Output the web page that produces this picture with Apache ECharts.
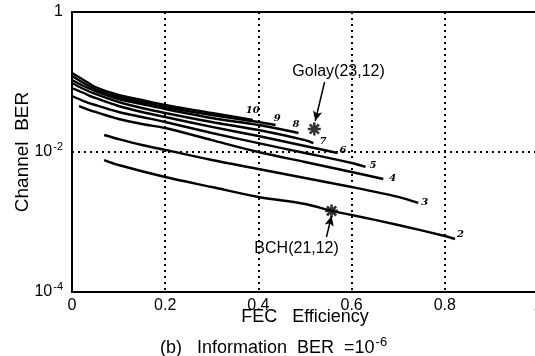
<!DOCTYPE html>
<html>
<head>
<meta charset="utf-8">
<script src="https://cdn.jsdelivr.net/npm/echarts@6/dist/echarts.min.js"></script>
<style>
  html, body { margin: 0; padding: 0; background: #fff; }
  #chart { width: 535px; height: 356px; }
</style>
</head>
<body>
<div id="chart"></div>
<script>
// Channel BER needed to reach an information BER of 1e-6, vs FEC efficiency.
// Each curve is labelled with its number of correctable errors.
const curveNames = ['10', '9', '8', '7', '6', '5', '4', '3', '2'];

const curve10 = [[0, 0.1345], [0.025, 0.1068], [0.05, 0.0848], [0.1, 0.0652], [0.15, 0.0553], [0.2, 0.0469], [0.3, 0.0361], [0.388, 0.0286]];
const curve9 = [[0, 0.1219], [0.025, 0.0967], [0.05, 0.0794], [0.1, 0.0611], [0.15, 0.0518], [0.2, 0.0439], [0.3, 0.0338], [0.4, 0.0268], [0.437, 0.0243]];
const curve8 = [[0, 0.1068], [0.025, 0.0877], [0.05, 0.0743], [0.1, 0.0572], [0.15, 0.0485], [0.2, 0.0411], [0.3, 0.0306], [0.4, 0.0243], [0.486, 0.0187]];
const curve7 = [[0, 0.0967], [0.025, 0.0794], [0.05, 0.0674], [0.1, 0.0518], [0.15, 0.0425], [0.2, 0.0361], [0.3, 0.0268], [0.4, 0.0206], [0.5, 0.0148], [0.518, 0.0134]];
const curve6 = [[0, 0.0821], [0.025, 0.0696], [0.05, 0.0591], [0.1, 0.0454], [0.15, 0.0373], [0.2, 0.0316], [0.3, 0.0228], [0.4, 0.0169], [0.5, 0.0122], [0.57, 0.00968]];
const curve5 = [[0, 0.0631], [0.025, 0.0535], [0.05, 0.0469], [0.1, 0.0373], [0.15, 0.0316], [0.2, 0.0268], [0.3, 0.0187], [0.4, 0.0134], [0.5, 0.00968], [0.6, 0.00696], [0.63, 0.00611]];
const curve4 = [[0.015, 0.0454], [0.05, 0.0373], [0.1, 0.0296], [0.15, 0.0251], [0.2, 0.0220], [0.3, 0.0148], [0.4, 0.0100], [0.5, 0.00720], [0.6, 0.00518], [0.668, 0.00411]];
const curve3 = [[0.069, 0.0175], [0.1, 0.0153], [0.15, 0.0126], [0.2, 0.0107], [0.3, 0.00768], [0.4, 0.00572], [0.5, 0.00425], [0.6, 0.00316], [0.7, 0.00228], [0.743, 0.00187]];
const curve2 = [[0.069, 0.00768], [0.1, 0.00652], [0.2, 0.00439], [0.3, 0.00316], [0.4, 0.00228], [0.5, 0.00181], [0.557, 0.00144], [0.6, 0.00126], [0.7, 0.000906], [0.8, 0.000631], [0.822, 0.000572]];

// Individual codes marked on the chart
const codeNames = ['Golay(23,12)', 'BCH(21,12)'];
const codePoints = [[0.52, 0.0213], [0.557, 0.00144]];
// Annotation text anchors and arrow tails/heads (efficiency, BER)
const codeLabelAt = [[0.572, 0.139], [0.482, 0.00042]];
const arrowFrom = [[0.542, 0.1], [0.546, 0.00061]];
const arrowTo = [[0.522, 0.0277], [0.557, 0.00122]];

const xTicks = [0, 0.2, 0.4, 0.6, 0.8, 1];

// Offsets of each curve's number from its end point
const endLabelOffsets = {
  '10': [-7, -10], '9': [-2, -7], '8': [-6, -9], '7': [6, -2], '6': [2, -3],
  '5': [4, -2], '4': [6, -1], '3': [3, -1], '2': [2, -5]
};

const curveData = [curve10, curve9, curve8, curve7, curve6, curve5, curve4, curve3, curve2];

const font = '"Liberation Sans", Arial, Helvetica, sans-serif';

// Asterisk marker built from four bars
const asterisk = 'path://M-1.2,-6 L1.2,-6 L1.2,6 L-1.2,6 Z M-6,-1.2 L6,-1.2 L6,1.2 L-6,1.2 Z ' +
  'M-5.09,-3.39 L-3.39,-5.09 L5.09,3.39 L3.39,5.09 Z M-3.39,5.09 L-5.09,3.39 L3.39,-5.09 L5.09,-3.39 Z';

const chart = echarts.init(document.getElementById('chart'), null, { renderer: 'canvas' });

const lineSeries = curveData.map((d, i) => ({
  name: curveNames[i],
  type: 'line',
  data: d,
  smooth: 0.3,
  showSymbol: false,
  symbol: 'none',
  lineStyle: { color: '#000', width: 2.4 },
  endLabel: {
    show: true,
    formatter: '{a}',
    distance: 0,
    offset: endLabelOffsets[curveNames[i]],
    fontFamily: '"DejaVu Serif", serif',
    fontStyle: 'italic',
    fontWeight: 'bold',
    fontSize: 10,
    color: '#000'
  },
  z: 3
}));

const option = {
  animation: false,
  backgroundColor: '#fff',
  grid: {
    left: 72, top: 12, width: 466, height: 280,
    outerBoundsMode: 'none',
    containLabel: false,
    show: true, borderColor: '#000', borderWidth: 2, backgroundColor: 'transparent'
  },
  xAxis: {
    type: 'value',
    min: 0, max: 1, interval: 0.2,
    axisLine: { show: true, lineStyle: { color: '#000', width: 2 } },
    axisTick: { show: false },
    axisLabel: {
      color: '#000', fontFamily: font, fontSize: 16, margin: 6,
      formatter: v => (xTicks.indexOf(+v.toFixed(1)) >= 0 ? String(+v.toFixed(1)) : '')
    },
    splitLine: { show: true, lineStyle: { color: '#000', type: [2, 4], width: 2 } },
    name: 'FEC   Efficiency',
    nameLocation: 'middle',
    nameGap: 16,
    nameMoveOverlap: false,
    nameTextStyle: { color: '#000', fontFamily: font, fontSize: 18 }
  },
  yAxis: {
    type: 'log',
    logBase: 10,
    min: 1e-4, max: 1, interval: 2,
    axisLine: { show: true, lineStyle: { color: '#000', width: 2 } },
    axisTick: { show: false },
    axisLabel: {
      color: '#000', fontFamily: font, fontSize: 16, margin: 9,
      formatter: v => {
        const e = Math.round(Math.log10(v));
        return e === 0 ? '1' : '10{sup|' + e + '}';
      },
      rich: {
        sup: { fontFamily: font, fontSize: 11, verticalAlign: 'bottom', padding: [0, 0, 10, 1], color: '#000' }
      }
    },
    splitLine: { show: true, lineStyle: { color: '#000', type: [2, 4], width: 2 } },
    name: 'Channel  BER',
    nameLocation: 'middle',
    nameRotate: 90,
    nameGap: 40,
    nameMoveOverlap: false,
    nameTextStyle: { color: '#000', fontFamily: font, fontSize: 19 }
  },
  title: {
    text: '(b)   Information  BER  =10{sup|-6}',
    left: 160,
    top: 336,
    padding: 0,
    textStyle: {
      color: '#000', fontFamily: font, fontSize: 18, fontWeight: 'normal',
      rich: {
        sup: { fontFamily: font, fontSize: 13, verticalAlign: 'bottom', padding: [0, 0, 12, 1], color: '#000' }
      }
    }
  },
  series: lineSeries.concat([
    {
      name: 'codes',
      type: 'scatter',
      data: codePoints,
      symbol: asterisk,
      symbolSize: 13,
      itemStyle: { color: '#000' },
      z: 5,
      markPoint: {
        symbol: 'circle',
        symbolSize: 1,
        silent: true,
        itemStyle: { color: 'rgba(0,0,0,0)' },
        label: { show: true, color: '#000', fontFamily: font, fontSize: 16, position: 'inside' },
        data: codeNames.map((n, i) => ({ coord: codeLabelAt[i], name: n, label: { formatter: n } }))
      },
      markLine: {
        silent: true,
        symbol: ['none', 'arrow'],
        symbolSize: [7, 10],
        label: { show: false },
        lineStyle: { color: '#000', width: 1.5, type: 'solid' },
        data: arrowFrom.map((p, i) => [{ coord: p }, { coord: arrowTo[i] }])
      }
    }
  ])
};

chart.setOption(option);
</script>
</body>
</html>
